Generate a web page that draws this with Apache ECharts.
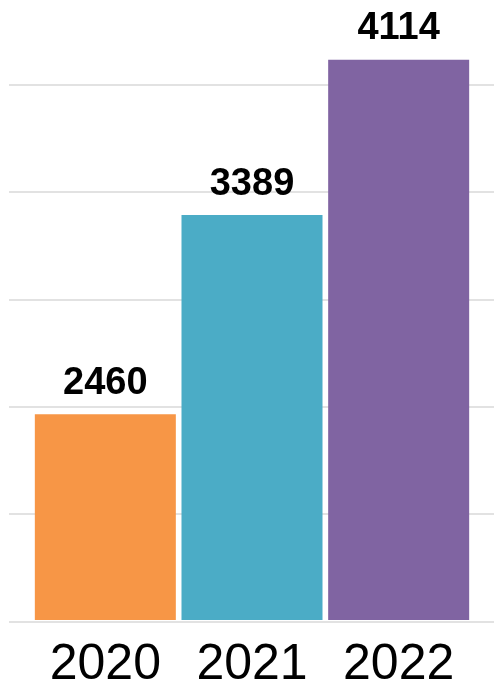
<!DOCTYPE html>
<html>
<head>
<meta charset="utf-8">
<script src="https://cdn.jsdelivr.net/npm/echarts@6/dist/echarts.min.js"></script>
<style>
  html, body { margin: 0; padding: 0; background: #fff; }
  #chart { width: 494px; height: 690px; }
</style>
</head>
<body>
<div id="chart"></div>
<script>
(function() {
    'use strict';

    var years = ['2020', '2021', '2022'];
    var values = [2460, 3389, 4114];
    var yMin = 1500, yMax = 4000, yStep = 500;

    var palette = ['#F79646', '#4BACC6', '#8064A2'];
    var font = 'Liberation Sans';

    var gridTop = 84.3, gridBottom = 68.3;
    var baseY = 690 - gridBottom;
    // bar grid starts at the top edge, its max is stretched to keep the same scale
    var unitsPerPx = (yMax - yMin) / (baseY - gridTop);
    var barMax = yMin + baseY * unitsPerPx;

    var myChart = echarts.init(document.getElementById('chart'));

    var option = {
        animation: false,
        backgroundColor: '#fff',
        grid: [
            // full-width grid, only for the gridlines
            { left: 9, right: 0, top: gridTop, bottom: gridBottom },
            // bars
            { left: 32, right: 22, top: 0, bottom: gridBottom }
        ],
        xAxis: [
            { gridIndex: 0, type: 'category', data: years, show: false },
            {
                gridIndex: 1,
                type: 'category',
                data: years,
                axisLine: { show: false },
                axisTick: { show: false },
                axisLabel: {
                    interval: 0,
                    hideOverlap: false,
                    color: '#000',
                    fontFamily: font,
                    fontSize: 50,
                    margin: 20
                }
            }
        ],
        yAxis: [
            {
                gridIndex: 0,
                type: 'value',
                min: yMin, max: yMax, interval: yStep,
                axisLine: { show: false },
                axisTick: { show: false },
                axisLabel: { show: false },
                splitLine: { lineStyle: { color: '#d9d9d9', width: 1.5 } }
            },
            {
                gridIndex: 1,
                type: 'value',
                min: yMin, max: barMax,
                axisLine: { show: false },
                axisTick: { show: false },
                axisLabel: { show: false },
                splitLine: { show: false }
            }
        ],
        series: [{
            type: 'bar',
            xAxisIndex: 1,
            yAxisIndex: 1,
            data: values,
            barWidth: 141,
            itemStyle: {
                color: function(p) { return palette[p.dataIndex]; }
            },
            label: {
                show: true,
                position: 'top',
                distance: 12,
                color: '#000',
                fontFamily: font,
                fontWeight: 'bold',
                fontSize: 38
            }
        }]
    };

    myChart.setOption(option);
})();
</script>
</body>
</html>
